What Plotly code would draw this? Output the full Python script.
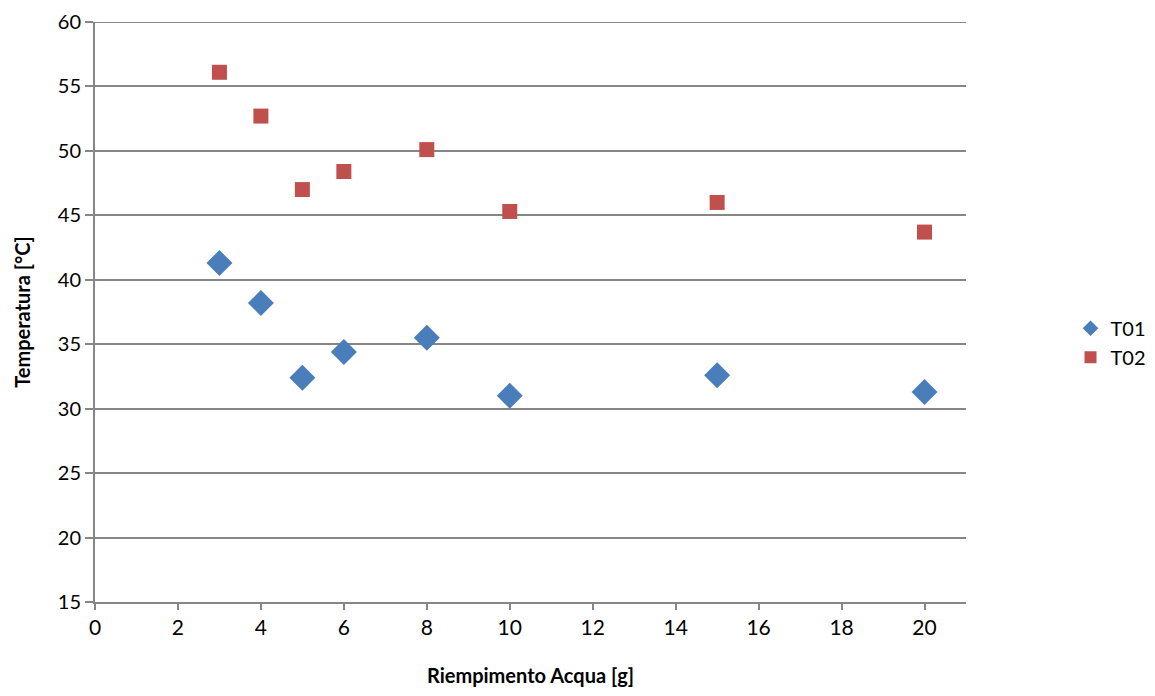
import plotly.graph_objects as go

x_fill = [3, 4, 5, 6, 8, 10, 15, 20]
t01 = [41.3, 38.2, 32.4, 34.4, 35.5, 31.0, 32.6, 31.3]
t02 = [56.1, 52.7, 47.0, 48.4, 50.1, 45.3, 46.0, 43.7]
y_range = [15, 60]

grid = "#868686"
fig = go.Figure()
fig.add_trace(go.Scatter(x=x_fill, y=t01, mode="markers", name="T01",
                         marker=dict(symbol="diamond", size=20, color="#4a7ebb")))
fig.add_trace(go.Scatter(x=x_fill, y=t02, mode="markers", name="T02",
                         marker=dict(symbol="square", size=15, color="#c0504d")))

# top gridline (plotly drops gridlines at the plot edge)
fig.add_shape(type="line", xref="x domain", yref="y", x0=0, x1=1,
              y0=y_range[1], y1=y_range[1], line=dict(color=grid, width=2), layer="below")

fnt = "Lato, 'Open Sans', sans-serif"
fig.update_layout(
    width=1155, height=696,
    paper_bgcolor="white", plot_bgcolor="white",
    margin=dict(l=87, r=197, t=14, b=102),
    font=dict(family=fnt, size=21, color="black"),
    showlegend=True,
    legend=dict(x=1.12, y=0.447, xanchor="left", yanchor="middle",
                font=dict(size=20), itemsizing="constant", tracegroupgap=0),
    xaxis=dict(range=[0, 21], tickvals=list(range(0, 21, 2)), showgrid=False,
               showline=True, linecolor=grid, linewidth=2, ticks="outside",
               ticklen=6, tickcolor=grid, tickwidth=2, zeroline=False, automargin=False,
               ticklabeloverflow="allow",
               title=dict(text="<b>Riempimento Acqua [g]</b>", font=dict(size=20), standoff=31)),
    yaxis=dict(range=y_range, tickvals=list(range(15, 61, 5)), showgrid=True,
               gridcolor=grid, gridwidth=2, showline=True, linecolor=grid, linewidth=2,
               ticks="outside", ticklen=8, tickcolor=grid, tickwidth=2, zeroline=False,
               automargin=False, ticklabeloverflow="allow", tickfont=dict(size=20),
               title=dict(text="<b>Temperatura [°C]</b>", font=dict(size=20), standoff=22)),
)
fig.write_html("out.html")
